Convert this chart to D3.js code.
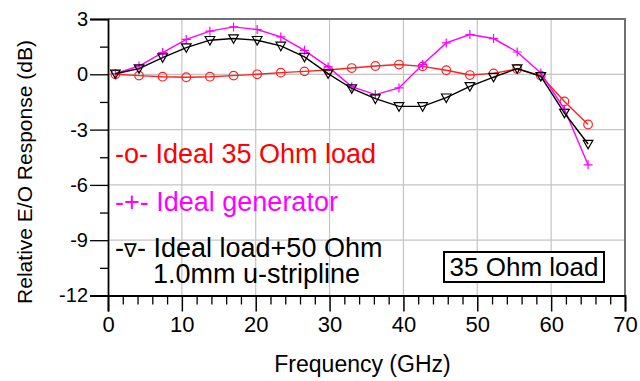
<!DOCTYPE html>
<html>
<head>
<meta charset="utf-8">
<script src="https://cdn.jsdelivr.net/npm/d3@7"></script>
<style>
  body { margin: 0; background: #fff; }
  text { font-family: "Liberation Sans", Arial, sans-serif; }
</style>
</head>
<body>
<div id="chart"></div>
<script>
"use strict";

// frequency points (GHz)
var freq = [1, 4.2, 7.4, 10.6, 13.8, 17, 20.2, 23.4, 26.6, 29.8, 33, 36.2, 39.4, 42.6, 45.8, 49, 52.2, 55.4, 58.6, 61.8, 65];

// responses (dB)
var ideal35 = [0, -0.07, -0.13, -0.16, -0.13, -0.07, 0, 0.09, 0.16, 0.23, 0.34, 0.45, 0.53, 0.43, 0.22, -0.04, 0.05, 0.29, -0.07, -1.47, -2.72];
var idealGen = [0.03, 0.45, 1.18, 1.89, 2.34, 2.57, 2.43, 2.03, 1.3, 0.4, -0.67, -1.1, -0.74, 0.53, 1.7, 2.16, 1.94, 1.21, 0.07, -1.9, -4.91];
var idealLoad50 = [0.03, 0.31, 0.91, 1.45, 1.85, 1.94, 1.85, 1.54, 0.94, 0.04, -0.77, -1.32, -1.74, -1.74, -1.27, -0.65, -0.15, 0.31, -0.11, -2.1, -3.78];

var xTicks = [0, 10, 20, 30, 40, 50, 60, 70];
var yTicks = [3, 0, -3, -6, -9, -12];

var width = 640;
var height = 381;
var margin = {top: 19, right: 15, bottom: 86, left: 108};

var svg = d3.select("#chart").append("svg")
	.attr("width", width)
	.attr("height", height);

var x = d3.scaleLinear()
	.domain([0, 70])
	.range([margin.left, width - margin.right]);

var y = d3.scaleLinear()
	.domain([-12, 3])
	.range([height - margin.bottom + 0.5, margin.top]);

// grid
svg.append("g")
	.selectAll("line.gx")
	.data(xTicks.slice(1, -1))
	.enter().append("line")
	.attr("x1", function(d) { return x(d); })
	.attr("x2", function(d) { return x(d); })
	.attr("y1", y(3))
	.attr("y2", y(-12))
	.attr("stroke", "#c4c4c4")
	.attr("stroke-width", 1.2);

svg.append("g")
	.selectAll("line.gy")
	.data(yTicks.slice(1, -1))
	.enter().append("line")
	.attr("x1", x(0))
	.attr("x2", x(70))
	.attr("y1", function(d) { return y(d); })
	.attr("y2", function(d) { return y(d); })
	.attr("stroke", "#c4c4c4")
	.attr("stroke-width", 1.2);

// top / right frame
svg.append("path")
	.attr("d", "M" + x(0) + "," + y(3) + "H" + x(70) + "V" + y(-12))
	.attr("fill", "none")
	.attr("stroke", "#707070")
	.attr("stroke-width", 2);

// x axis
var xAxis = d3.axisBottom(x)
	.tickValues(xTicks)
	.tickSize(16)
	.tickPadding(5)
	.tickFormat(d3.format("d"));

var xMinor = d3.axisBottom(x)
	.tickValues(d3.range(0, 71, 2).filter(function(d) { return d % 10 != 0; }))
	.tickSize(9)
	.tickFormat("");

svg.append("g")
	.attr("transform", "translate(0," + y(-12) + ")")
	.call(xMinor)
	.call(function(g) { g.select(".domain").remove(); })
	.selectAll("line").attr("stroke-width", 1.3);

var gx = svg.append("g")
	.attr("transform", "translate(0," + y(-12) + ")")
	.call(xAxis);
gx.selectAll("text")
	.attr("font-size", 22)
	.attr("fill", "#000");
gx.selectAll("line").attr("stroke-width", 1.5);
gx.select(".domain").attr("stroke-width", 1.8);

// y axis
var yAxis = d3.axisLeft(y)
	.tickValues(yTicks)
	.tickSize(18)
	.tickPadding(2)
	.tickFormat(d3.format("d"));

var yMinor = d3.axisLeft(y)
	.tickValues([1.5, -1.5, -4.5, -7.5, -10.5])
	.tickSize(8)
	.tickFormat("");

svg.append("g")
	.attr("transform", "translate(" + x(0) + ",0)")
	.call(yMinor)
	.call(function(g) { g.select(".domain").remove(); })
	.selectAll("line").attr("stroke-width", 1.3);

var gy = svg.append("g")
	.attr("transform", "translate(" + x(0) + ",0)")
	.call(yAxis);
gy.selectAll("text")
	.attr("font-size", 20)
	.attr("fill", "#000")
	.text(function(d) { return d < 0 ? "-" + Math.abs(d) : d; });
gy.selectAll("line").attr("stroke-width", 1.3);
gy.select(".domain").attr("stroke-width", 1.8);

// axis titles
svg.append("text")
	.attr("x", x(35) - 4)
	.attr("y", 372)
	.attr("text-anchor", "middle")
	.attr("font-size", 23)
	.text("Frequency (GHz)");

svg.append("text")
	.attr("transform", "translate(32," + 172 + ") rotate(-90)")
	.attr("text-anchor", "middle")
	.attr("font-size", 21)
	.text("Relative E/O Response (dB)");

// series
var series = [
	{name: "ideal35", values: ideal35, color: "#ff2020", marker: "circle"},
	{name: "idealGen", values: idealGen, color: "#ff00ff", marker: "plus"},
	{name: "idealLoad50", values: idealLoad50, color: "#000000", marker: "tri"}
];

var line = d3.line()
	.x(function(d) { return x(d[0]); })
	.y(function(d) { return y(d[1]); });

series.forEach(function(s) {
	var pts = freq.map(function(f, i) { return [f, s.values[i]]; });

	svg.append("path")
		.datum(pts)
		.attr("fill", "none")
		.attr("stroke", s.color)
		.attr("stroke-width", 1.4)
		.attr("d", line);

	var m = svg.append("g").selectAll("g")
		.data(pts)
		.enter().append("g")
		.attr("transform", function(d) { return "translate(" + x(d[0]) + "," + y(d[1]) + ")"; });

	if (s.marker == "circle") {
		m.append("circle")
			.attr("r", 4.3)
			.attr("fill", "none")
			.attr("stroke", s.color)
			.attr("stroke-width", 1.2);
	} else if (s.marker == "plus") {
		m.append("path")
			.attr("d", "M-4.5,0H4.5M0,-4.5V4.5")
			.attr("stroke", s.color)
			.attr("stroke-width", 1.2);
	} else {
		m.append("path")
			.attr("d", "M-4.8,-3.7H4.8L0,4.8Z")
			.attr("fill", "none")
			.attr("stroke", s.color)
			.attr("stroke-width", 1.2);
	}
});

// legend
var legend = [
	{pre: "-o- ", label: "Ideal 35 Ohm load", color: "#ff0000", x: 115, y: 163},
	{pre: "-+- ", label: "Ideal generator", color: "#ff00ff", x: 115, y: 211},
	{pre: "-", sym: "\u2207", post: "- ", label: "Ideal load+50 Ohm", line2: "1.0mm u-stripline", color: "#000000", x: 115, y: 257}
];

var lt = svg.selectAll("text.legend")
	.data(legend)
	.enter().append("text")
	.attr("class", "legend")
	.attr("x", function(d) { return d.x; })
	.attr("y", function(d) { return d.y; })
	.attr("font-size", 27)
	.attr("fill", function(d) { return d.color; });

lt.append("tspan").text(function(d) { return d.pre; });
lt.filter(function(d) { return d.sym; })
	.append("tspan")
	.attr("font-size", 19)
	.text(function(d) { return d.sym; });
lt.filter(function(d) { return d.post; })
	.append("tspan")
	.text(function(d) { return d.post; });
lt.append("tspan").text(function(d) { return d.label; });
lt.filter(function(d) { return d.line2; })
	.append("tspan")
	.attr("x", 153)
	.attr("dy", 26)
	.text(function(d) { return d.line2; });

// annotation box
svg.append("rect")
	.attr("x", 444)
	.attr("y", 252)
	.attr("width", 160)
	.attr("height", 30)
	.attr("fill", "#fff")
	.attr("stroke", "#000")
	.attr("stroke-width", 2);

svg.append("text")
	.attr("x", 524)
	.attr("y", 276)
	.attr("text-anchor", "middle")
	.attr("font-size", 26)
	.text("35 Ohm load");
</script>
</body>
</html>
